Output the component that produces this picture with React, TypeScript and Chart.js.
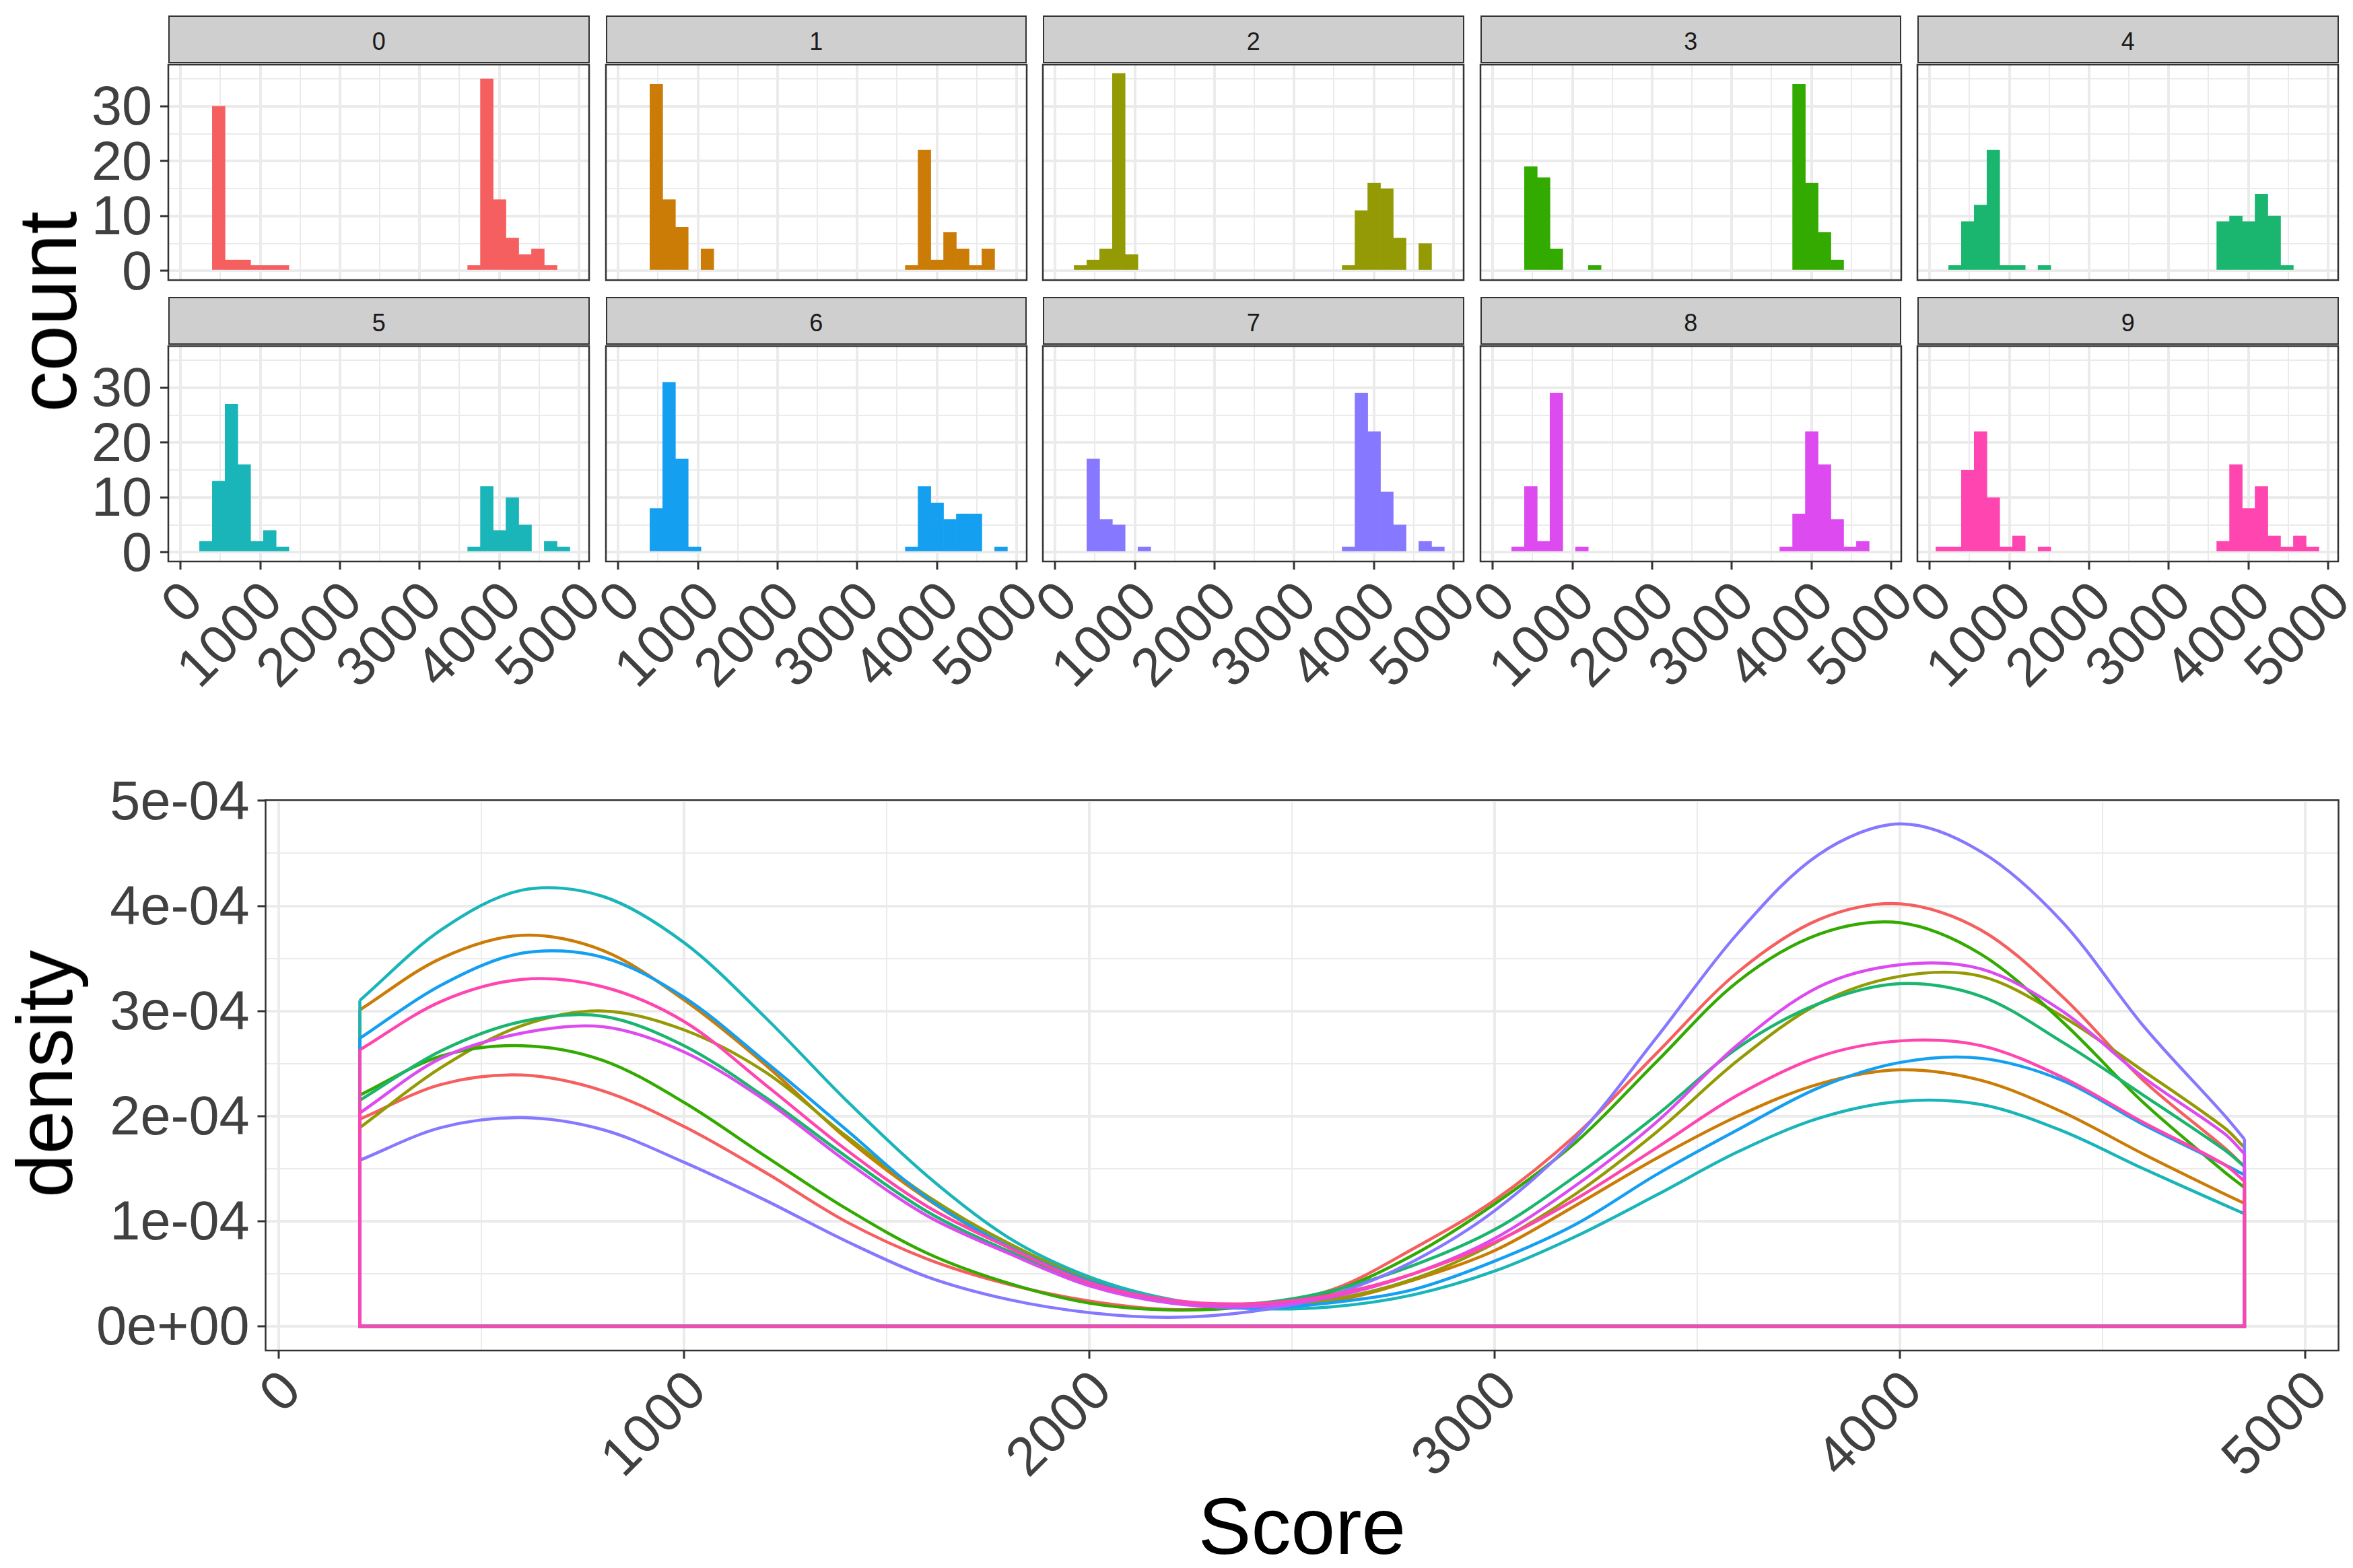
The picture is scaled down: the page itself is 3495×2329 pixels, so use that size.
import { useEffect, useRef } from "react";
import { Chart, registerables } from "chart.js";

Chart.register(...registerables);

// histogram bins, shared by all the facets
const binCenters = [
  157, 317.3, 477.6, 637.9, 798.2, 958.5, 1118.8, 1279.1, 1439.4, 1599.7,
  1760, 1920.3, 2080.6, 2240.9, 2401.2, 2561.5, 2721.8, 2882.1, 3042.4, 3202.7,
  3363, 3523.3, 3683.6, 3843.9, 4004.2, 4164.5, 4324.8, 4485.1, 4645.4, 4805.7,
];

const digits = ["0", "1", "2", "3", "4", "5", "6", "7", "8", "9"];
const colors = ["#F65F5F", "#CB7C07", "#949A04", "#33AA00", "#1AB56F", "#19B5B8", "#159FF0", "#8678FF", "#DD4AEF", "#FF45B0"];

const counts0 = [0, 0, 30, 2, 2, 1, 1, 1, 0, 0, 0, 0, 0, 0, 0, 0, 0, 0, 0, 0, 0, 0, 1, 35, 13, 6, 3, 4, 1, 0];
const counts1 = [0, 0, 34, 13, 8, 0, 4, 0, 0, 0, 0, 0, 0, 0, 0, 0, 0, 0, 0, 0, 0, 0, 1, 22, 2, 7, 4, 1, 4, 0];
const counts2 = [0, 1, 2, 4, 36, 3, 0, 0, 0, 0, 0, 0, 0, 0, 0, 0, 0, 0, 0, 0, 0, 0, 1, 11, 16, 15, 6, 0, 5, 0];
const counts3 = [0, 0, 19, 17, 4, 0, 0, 1, 0, 0, 0, 0, 0, 0, 0, 0, 0, 0, 0, 0, 0, 0, 0, 34, 16, 7, 2, 0, 0, 0];
const counts4 = [0, 1, 9, 12, 22, 1, 1, 0, 1, 0, 0, 0, 0, 0, 0, 0, 0, 0, 0, 0, 0, 0, 9, 10, 9, 14, 10, 1, 0, 0];
const counts5 = [0, 2, 13, 27, 16, 2, 4, 1, 0, 0, 0, 0, 0, 0, 0, 0, 0, 0, 0, 0, 0, 0, 1, 12, 4, 10, 5, 0, 2, 1];
const counts6 = [0, 0, 8, 31, 17, 1, 0, 0, 0, 0, 0, 0, 0, 0, 0, 0, 0, 0, 0, 0, 0, 0, 1, 12, 9, 6, 7, 7, 0, 1];
const counts7 = [0, 0, 17, 6, 5, 0, 1, 0, 0, 0, 0, 0, 0, 0, 0, 0, 0, 0, 0, 0, 0, 0, 1, 29, 22, 11, 5, 0, 2, 1];
const counts8 = [0, 1, 12, 2, 29, 0, 1, 0, 0, 0, 0, 0, 0, 0, 0, 0, 0, 0, 0, 0, 0, 0, 1, 7, 22, 16, 6, 1, 2, 0];
const counts9 = [1, 1, 15, 22, 10, 1, 3, 0, 1, 0, 0, 0, 0, 0, 0, 0, 0, 0, 0, 0, 0, 0, 2, 16, 8, 12, 3, 1, 3, 1];
const allCounts = [counts0, counts1, counts2, counts3, counts4, counts5, counts6, counts7, counts8, counts9];

// density curves, in units of 1e-4
const scoreGrid = [200, 400, 600, 800, 1000, 1200, 1400, 1600, 1800, 2000, 2200, 2400, 2600, 2800, 3000, 3200, 3400, 3600, 3800, 4000, 4200, 4400, 4600, 4800, 4850];
const density0 = [1.97, 2.3, 2.39, 2.24, 1.9, 1.465, 0.995, 0.64, 0.4, 0.24, 0.16, 0.2, 0.35, 0.74, 1.2, 1.82, 2.6, 3.37, 3.87, 4.02, 3.77, 3.14, 2.34, 1.7, 1.52];
const density1 = [3.01, 3.5, 3.72, 3.575, 3.105, 2.49, 1.79, 1.21, 0.75, 0.42, 0.24, 0.19, 0.24, 0.44, 0.72, 1.15, 1.6, 2.0, 2.305, 2.44, 2.34, 2.04, 1.64, 1.26, 1.17];
const density2 = [1.89, 2.46, 2.86, 3.0, 2.82, 2.42, 1.81, 1.24, 0.79, 0.45, 0.245, 0.19, 0.256, 0.45, 0.79, 1.26, 1.85, 2.53, 3.07, 3.33, 3.33, 2.95, 2.43, 1.89, 1.7];
const density3 = [2.2, 2.57, 2.67, 2.53, 2.13, 1.62, 1.12, 0.695, 0.41, 0.22, 0.155, 0.19, 0.33, 0.68, 1.165, 1.75, 2.52, 3.28, 3.73, 3.84, 3.54, 2.9, 2.13, 1.47, 1.32];
const density4 = [2.15, 2.62, 2.9, 2.95, 2.67, 2.18, 1.615, 1.09, 0.715, 0.4, 0.23, 0.215, 0.34, 0.58, 0.92, 1.43, 2.01, 2.65, 3.07, 3.26, 3.14, 2.705, 2.2, 1.68, 1.52];
const density5 = [3.1, 3.77, 4.15, 4.09, 3.65, 2.94, 2.15, 1.43, 0.845, 0.47, 0.256, 0.17, 0.186, 0.3, 0.525, 0.855, 1.25, 1.66, 1.98, 2.14, 2.11, 1.86, 1.5, 1.155, 1.07];
const density6 = [2.74, 3.245, 3.55, 3.51, 3.13, 2.52, 1.87, 1.22, 0.76, 0.43, 0.235, 0.17, 0.225, 0.35, 0.62, 0.97, 1.445, 1.87, 2.27, 2.51, 2.55, 2.34, 1.92, 1.54, 1.44];
const density7 = [1.58, 1.89, 1.985, 1.87, 1.56, 1.2, 0.81, 0.47, 0.255, 0.13, 0.085, 0.14, 0.3, 0.62, 1.1, 1.79, 2.75, 3.74, 4.49, 4.78, 4.515, 3.85, 2.86, 2.01, 1.78];
const density8 = [2.03, 2.55, 2.79, 2.85, 2.61, 2.15, 1.57, 1.05, 0.695, 0.385, 0.22, 0.185, 0.28, 0.5, 0.835, 1.34, 1.945, 2.68, 3.23, 3.44, 3.4, 3.0, 2.37, 1.835, 1.64];
const density9 = [2.63, 3.09, 3.3, 3.23, 2.9, 2.3, 1.68, 1.14, 0.75, 0.415, 0.25, 0.215, 0.3, 0.5, 0.8, 1.21, 1.7, 2.2, 2.565, 2.715, 2.67, 2.37, 1.94, 1.54, 1.38];
const allDensity = [density0, density1, density2, density3, density4, density5, density6, density7, density8, density9];

const scoreTicks = [0, 500, 1000, 1500, 2000, 2500, 3000, 3500, 4000, 4500, 5000];
const countTicks = [0, 5, 10, 15, 20, 25, 30, 35];
const densityTicks = [0, 0.5, 1, 1.5, 2, 2.5, 3, 3.5, 4, 4.5, 5];
const densityLabels = ["0e+00", "", "1e-04", "", "2e-04", "", "3e-04", "", "4e-04", "", "5e-04"];

const FONT = "'Liberation Sans', Arial, sans-serif";
const TICK_TEXT = "#404040";
const DARK = "#333333";
const GRID = "#EBEBEB";

const panelBorder = {
  id: "panelBorder",
  afterDraw(chart: Chart) {
    const { ctx, chartArea } = chart;
    ctx.save();
    ctx.strokeStyle = DARK;
    ctx.lineWidth = 2.5;
    ctx.strokeRect(chartArea.left, chartArea.top, chartArea.right - chartArea.left, chartArea.bottom - chartArea.top);
    ctx.restore();
  },
};

// x axis shared by the facets and the density panel
function scoreAxis(min: number, max: number, height: number, showLabels: boolean, title?: object) {
  return {
    type: "linear",
    offset: false,
    min,
    max,
    afterBuildTicks: (axis: any) => {
      axis.ticks = scoreTicks.map((value) => ({ value }));
    },
    afterFit: (axis: any) => {
      axis.height = height;
    },
    grid: {
      offset: false,
      color: GRID,
      lineWidth: (c: any) => (c.tick && c.tick.value % 1000 === 0 ? 4 : 2),
      drawTicks: showLabels,
      tickLength: 12,
      tickWidth: 3,
      tickColor: (c: any) => (c.tick && c.tick.value % 1000 === 0 ? DARK : "rgba(0,0,0,0)"),
    },
    border: { display: false },
    ticks: {
      display: showLabels,
      autoSkip: false,
      minRotation: 45,
      maxRotation: 45,
      padding: 7,
      labelOffset: 21,
      color: TICK_TEXT,
      font: { family: FONT, size: 81, lineHeight: 1 },
      callback: (value: any) => (value % 1000 === 0 ? String(value) : ""),
    },
    title: title || { display: false },
  };
}

const PANEL_W = 625.5;
const PANEL_H = 320;
const facetLefts = [250, 899.5, 1549, 2198.5, 2848];
const facetTops = [95.8, 513.7];
const STRIP_H = 71;
const Y_AXIS_W = 200;
const PAD_TOP = 80;
const PAD_RIGHT = 70;
const X_AXIS_H = 230;

function Facet({ index }: { index: number }) {
  const canvasRef = useRef<HTMLCanvasElement>(null);
  const col = index % 5;
  const row = Math.floor(index / 5);

  useEffect(() => {
    if (!canvasRef.current) return;
    const chart = new Chart(canvasRef.current, {
      type: "bar",
      data: {
        datasets: [
          {
            data: binCenters.map((x, i) => ({ x, y: allCounts[index][i] || null })),
            backgroundColor: colors[index],
            borderWidth: 0,
            barPercentage: 1,
            categoryPercentage: 1,
          },
        ],
      },
      options: {
        animation: false,
        responsive: false,
        devicePixelRatio: 1,
        layout: { autoPadding: false, padding: { left: 0, top: PAD_TOP, right: PAD_RIGHT, bottom: 0 } },
        plugins: { legend: { display: false }, title: { display: false }, tooltip: { enabled: false } },
        scales: {
          x: scoreAxis(-155, 5128, X_AXIS_H, row === 1),
          y: {
            type: "linear",
            min: -1.66,
            max: 37.6,
            afterBuildTicks: (axis: any) => {
              axis.ticks = countTicks.map((value) => ({ value }));
            },
            afterFit: (axis: any) => {
              axis.width = Y_AXIS_W;
            },
            grid: {
              color: GRID,
              lineWidth: (c: any) => (c.tick && c.tick.value % 10 === 0 ? 4 : 2),
              drawTicks: col === 0,
              tickLength: 12,
              tickWidth: 3,
              tickColor: (c: any) => (c.tick && c.tick.value % 10 === 0 ? DARK : "rgba(0,0,0,0)"),
            },
            border: { display: false },
            ticks: {
              display: col === 0,
              autoSkip: false,
              padding: 12,
              labelOffset: 5,
              color: TICK_TEXT,
              font: { family: FONT, size: 81, lineHeight: 1 },
              callback: (value: any) => (value % 10 === 0 ? String(value) : ""),
            },
          },
        },
      } as any,
      plugins: [panelBorder],
    });
    return () => chart.destroy();
  }, [index, col, row]);

  const left = facetLefts[col];
  const top = facetTops[row];
  return (
    <>
      <div
        style={{
          position: "absolute",
          left,
          top: top - STRIP_H - 2,
          width: PANEL_W,
          height: STRIP_H,
          boxSizing: "border-box",
          background: "#CFCFCF",
          border: `2.5px solid ${DARK}`,
          color: "#1A1A1A",
          font: `36px ${FONT}`,
          lineHeight: `${STRIP_H + 2}px`,
          textAlign: "center",
        }}
      >
        {digits[index]}
      </div>
      <canvas
        ref={canvasRef}
        width={Y_AXIS_W + PANEL_W + PAD_RIGHT}
        height={PAD_TOP + PANEL_H + X_AXIS_H}
        style={{ position: "absolute", left: left - Y_AXIS_W, top: top - PAD_TOP }}
      />
    </>
  );
}

const DENSITY_LEFT = 394.5;
const DENSITY_RIGHT = 3473.5;
const DENSITY_CANVAS_TOP = 1100;
const DENSITY_TOP = 1188.5;
const DENSITY_BOTTOM = 2006;

function DensityPanel() {
  const canvasRef = useRef<HTMLCanvasElement>(null);

  useEffect(() => {
    if (!canvasRef.current) return;
    // ggplot draws the last group on top; chart.js draws the first dataset on top
    const datasets = allDensity
      .flatMap((values, i) => [
        {
          data: scoreGrid.map((x, j) => ({ x, y: values[j] })),
          borderColor: colors[i],
          borderWidth: 4.5,
          pointRadius: 0,
          tension: 0.33,
          fill: false,
        },
        {
          // geom_density closes its outline down to zero
          data: [
            { x: scoreGrid[0], y: values[0] },
            { x: scoreGrid[0], y: 0 },
            { x: scoreGrid[scoreGrid.length - 1], y: 0 },
            { x: scoreGrid[scoreGrid.length - 1], y: values[values.length - 1] },
          ],
          borderColor: colors[i],
          borderWidth: 4.5,
          pointRadius: 0,
          tension: 0,
          fill: false,
        },
      ])
      .reverse();

    const chart = new Chart(canvasRef.current, {
      type: "line",
      data: { datasets },
      options: {
        animation: false,
        responsive: false,
        devicePixelRatio: 1,
        layout: { autoPadding: false, padding: { left: 0, top: DENSITY_TOP - DENSITY_CANVAS_TOP, right: 3495 - DENSITY_RIGHT, bottom: 0 } },
        plugins: { legend: { display: false }, title: { display: false }, tooltip: { enabled: false } },
        scales: {
          x: scoreAxis(-32.5, 5082, 2329 - DENSITY_BOTTOM, true, {
            display: true,
            text: "Score",
            color: "#000000",
            padding: { top: 0, bottom: -5 },
            font: { family: FONT, size: 118, lineHeight: 1 },
          }),
          y: {
            type: "linear",
            min: -0.231,
            max: 5.006,
            afterBuildTicks: (axis: any) => {
              axis.ticks = densityTicks.map((value) => ({ value }));
            },
            afterFit: (axis: any) => {
              axis.width = DENSITY_LEFT;
            },
            grid: {
              color: GRID,
              lineWidth: (c: any) => (c.tick && c.tick.value % 1 === 0 ? 4 : 2),
              tickLength: 12,
              tickWidth: 3,
              tickColor: (c: any) => (c.tick && c.tick.value % 1 === 0 ? DARK : "rgba(0,0,0,0)"),
            },
            border: { display: false },
            ticks: {
              autoSkip: false,
              padding: 12,
              labelOffset: 5,
              color: TICK_TEXT,
              font: { family: FONT, size: 81, lineHeight: 1 },
              callback: (_value: any, i: number) => densityLabels[i],
            },
          },
        },
      } as any,
      plugins: [panelBorder],
    });
    return () => chart.destroy();
  }, []);

  return (
    <canvas
      ref={canvasRef}
      width={3495}
      height={2329 - DENSITY_CANVAS_TOP}
      style={{ position: "absolute", left: 0, top: DENSITY_CANVAS_TOP }}
    />
  );
}

// rotated axis title, centred on (x, y)
function SideTitle({ text, x, y, size }: { text: string; x: number; y: number; size: number }) {
  return (
    <div
      style={{
        position: "absolute",
        left: x,
        top: y,
        color: "#000000",
        font: `${size}px ${FONT}`,
        lineHeight: 1,
        whiteSpace: "nowrap",
        transform: "translate(-50%, -50%) rotate(-90deg)",
      }}
    >
      {text}
    </div>
  );
}

export default function App() {
  return (
    <div style={{ position: "absolute", left: 0, top: 0, width: 3495, height: 2329, background: "#FFFFFF", overflow: "hidden" }}>
      {digits.map((_, i) => (
        <Facet key={i} index={i} />
      ))}
      <DensityPanel />
      <SideTitle text="count" x={71} y={463} size={122} />
      <SideTitle text="density" x={67} y={1595} size={116} />
    </div>
  );
}
